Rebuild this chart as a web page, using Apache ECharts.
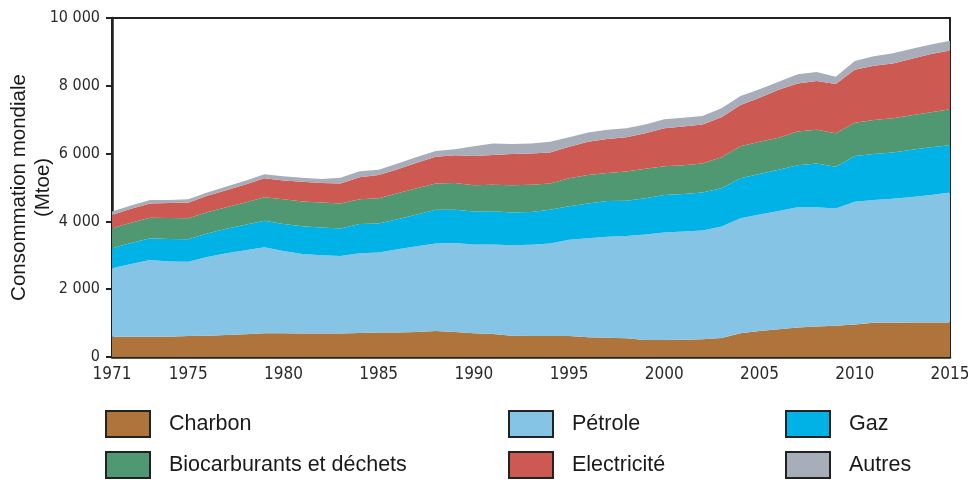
<!DOCTYPE html>
<html>
<head>
<meta charset="utf-8">
<script src="https://cdn.jsdelivr.net/npm/echarts@6/dist/echarts.min.js"></script>
<style>
  html, body { margin: 0; padding: 0; background: #fff; }
  #chart { width: 968px; height: 482px; }
</style>
</head>
<body>
<div id="chart"></div>
<script>
const years = [];
for (let y = 1971; y <= 2015; y++) years.push(String(y));

const yTicks = [0, 2000, 4000, 6000, 8000, 10000];

// Mtoe par source
const charbon = [600, 600, 600, 600, 620, 630, 650, 670, 700, 700, 690, 690, 690, 710, 720, 720, 740, 770, 740, 700,
  680, 630, 620, 620, 620, 580, 570, 550, 500, 500, 510, 520, 560, 700, 770, 820, 870, 900, 920, 960,
  1010, 1010, 1020, 1020, 1020];
const petrole = [2020, 2140, 2260, 2220, 2190, 2320, 2410, 2480, 2540, 2430, 2350, 2310, 2290, 2350, 2360, 2460, 2530, 2580, 2620, 2620,
  2640, 2670, 2690, 2730, 2840, 2920, 2980, 3020, 3110, 3170, 3190, 3210, 3290, 3390, 3430, 3490, 3550, 3520, 3460, 3620,
  3620, 3660, 3700, 3760, 3830];
const gaz = [590, 620, 640, 660, 660, 690, 720, 750, 780, 790, 820, 820, 810, 860, 860, 880, 930, 990, 980, 970,
  980, 960, 970, 990, 990, 1030, 1050, 1040, 1070, 1110, 1110, 1120, 1130, 1180, 1200, 1210, 1240, 1290, 1230, 1350,
  1360, 1360, 1390, 1410, 1400];
const biocarburants = [590, 600, 610, 620, 620, 630, 640, 660, 690, 730, 730, 740, 740, 730, 740, 770, 780, 780, 790, 780,
  780, 810, 800, 780, 820, 840, 830, 860, 870, 850, 850, 860, 910, 950, 950, 950, 990, 990, 990, 980,
  1000, 1010, 1020, 1030, 1060];
const electricite = [390, 410, 420, 440, 460, 490, 500, 530, 560, 560, 580, 570, 590, 650, 690, 710, 750, 790, 820, 860,
  880, 920, 920, 910, 930, 980, 1000, 1010, 1050, 1120, 1140, 1150, 1180, 1210, 1300, 1410, 1420, 1440, 1450, 1560,
  1600, 1620, 1670, 1720, 1730];
const autres = [100, 100, 100, 90, 100, 90, 110, 110, 120, 120, 120, 120, 170, 180, 150, 170, 170, 170, 180, 290,
  340, 290, 300, 320, 280, 270, 270, 270, 260, 260, 260, 250, 270, 270, 250, 240, 270, 270, 220, 260,
  280, 300, 290, 280, 290];

const seriesDefs = [
  { name: 'Charbon', data: charbon, color: '#AE743B' },
  { name: 'Pétrole', data: petrole, color: '#85C4E5' },
  { name: 'Gaz', data: gaz, color: '#00B2E5' },
  { name: 'Biocarburants et déchets', data: biocarburants, color: '#4F9872' },
  { name: 'Electricité', data: electricite, color: '#CD5A52' },
  { name: 'Autres', data: autres, color: '#A8AEB9' }
];

// legend slots: [name, left, top]
const legendSlots = [
  ['Charbon', 105, 410],
  ['Pétrole', 508, 410],
  ['Gaz', 785, 410],
  ['Biocarburants et déchets', 105, 451],
  ['Electricité', 508, 451],
  ['Autres', 785, 451]
];

const narrow = '"DejaVu Sans Condensed", "Liberation Sans", Arial, sans-serif';
const sans = '"Liberation Sans", Arial, sans-serif';

const chart = echarts.init(document.getElementById('chart'));
chart.setOption({
  animation: false,
  grid: {
    left: 112, right: 18, top: 18, bottom: 125,
    outerBoundsMode: 'none',
    show: true, borderColor: '#222', borderWidth: 2
  },
  legend: legendSlots.map(([name, left, top], i) => ({
    id: 'lg' + i,
    left: left,
    top: top,
    padding: 0,
    data: [name],
    icon: 'rect',
    itemWidth: 44,
    itemHeight: 26,
    selectedMode: false,
    itemStyle: { borderColor: '#222', borderWidth: 2 },
    textStyle: { fontFamily: sans, fontSize: 21.5, color: '#1a1a1a', padding: [0, 0, 0, 14] }
  })),
  xAxis: {
    type: 'category',
    data: years,
    boundaryGap: false,
    axisLine: { lineStyle: { color: '#222', width: 2.5 } },
    axisTick: { show: true, inside: true, length: 5, interval: 0, lineStyle: { color: '#222', width: 2 } },
    axisLabel: {
      interval: (i, v) => v === '1971' || Number(v) % 5 === 0,
      fontFamily: narrow, fontSize: 17, color: '#2a2a2a', margin: 9
    },
    splitLine: { show: false }
  },
  yAxis: {
    type: 'value',
    min: yTicks[0],
    max: yTicks[yTicks.length - 1],
    interval: 2000,
    name: 'Consommation mondiale\n(Mtoe)',
    nameLocation: 'middle',
    nameRotate: 90,
    nameGap: 57,
    nameMoveOverlap: false,
    nameTextStyle: { fontFamily: sans, fontSize: 20.5, color: '#1a1a1a', lineHeight: 24 },
    axisLine: { show: true, lineStyle: { color: '#222', width: 2.5 } },
    axisTick: { show: true, length: 6, lineStyle: { color: '#222', width: 2 } },
    axisLabel: {
      fontFamily: narrow, fontSize: 16, color: '#2a2a2a', margin: 12,
      formatter: v => v >= 1000 ? Math.floor(v / 1000) + ' ' + String(v % 1000).padStart(3, '0') : String(v)
    },
    splitLine: { show: false }
  },
  series: seriesDefs.map(s => ({
    name: s.name,
    type: 'line',
    stack: 'total',
    data: s.data,
    showSymbol: false,
    symbol: 'none',
    lineStyle: { width: 0 },
    areaStyle: { color: s.color, opacity: 1 },
    itemStyle: { color: s.color },
    emphasis: { disabled: true }
  }))
});
</script>
</body>
</html>
